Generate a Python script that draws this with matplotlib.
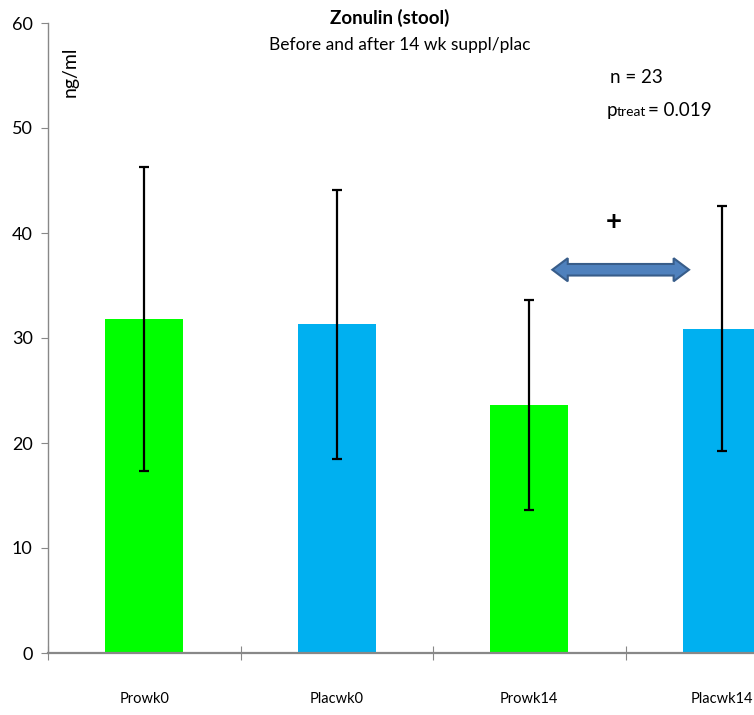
import matplotlib
matplotlib.use("Agg")
import matplotlib.pyplot as plt
from matplotlib.patches import Polygon
import numpy as np

categories = ["Prowk0", "Placwk0", "Prowk14", "Placwk14"]
means = [31.8, 31.3, 23.6, 30.9]
errors = [14.5, 12.8, 10.0, 11.7]
colors = ["#00FF00", "#00B0F0", "#00FF00", "#00B0F0"]
yticks = [0, 10, 20, 30, 40, 50, 60]

plt.rcParams['font.family'] = ['Lato', 'DejaVu Sans']

W, H = 754, 715
fig = plt.figure(figsize=(W / 100, H / 100), dpi=100)
ax = fig.add_axes([48 / W, 1 - 653 / H, 770 / W, 630 / H])

x = np.arange(len(categories))
ax.bar(x, means, width=0.405, color=colors, zorder=2)
ax.errorbar(x, means, yerr=errors, fmt='none', ecolor='black', elinewidth=1.6,
            capsize=3.8, capthick=1.6, zorder=3)

ax.set_xlim(-0.5, 3.5)
ax.set_ylim(0, 60)
ax.set_yticks(yticks)
ax.set_yticklabels([str(v) for v in yticks], fontsize=13)
ax.set_xticks(x)
ax.set_xticklabels(categories, fontsize=10.5)
ax.set_xticks(np.arange(-0.5, 3.6, 1.0), minor=True)
ax.tick_params(axis='x', which='major', length=0, pad=28)
ax.tick_params(axis='x', which='minor', length=10, direction='inout', color='#888888', width=0.8)
ax.tick_params(axis='y', length=5, color='#888888', width=0.8, pad=6)

for s in ['top', 'right']:
    ax.spines[s].set_visible(False)
for s in ['left', 'bottom']:
    ax.spines[s].set_color('#888888')
    ax.spines[s].set_linewidth(1.0)
ax.spines['bottom'].set_linewidth(1.6)

# y label inside axes
fig.text(70 / W, 1 - 72 / H, "ng/ml", rotation=90, ha='center', va='center', fontsize=14)

# titles
fig.text(390 / W, 1 - 18 / H, "Zonulin (stool)", ha='center', va='center',
         fontsize=13.5, fontweight='bold')
fig.text(400 / W, 1 - 45 / H, "Before and after 14 wk suppl/plac", ha='center', va='center',
         fontsize=12.5)

# stats text
fig.text(610 / W, 1 - 83 / H, "n = 23", ha='left', va='baseline', fontsize=13.5)
fig.text(607 / W, 1 - 116 / H, "p", ha='left', va='baseline', fontsize=13.5)
fig.text(617 / W, 1 - 116 / H, "treat", ha='left', va='baseline', fontsize=10)
fig.text(648 / W, 1 - 116 / H, "= 0.019", ha='left', va='baseline', fontsize=13.5)

# significance marker and double arrow between Prowk14 and Placwk14
ax.text(2.44, 41.0, "+", ha='center', va='center', fontsize=20, fontweight='bold')
ax_x0, ax_x1, ay = 2.12, 2.83, 36.5
hl, sh, hh = 0.08, 0.55, 1.1
arrow = Polygon([
    (ax_x0, ay), (ax_x0 + hl, ay + hh), (ax_x0 + hl, ay + sh),
    (ax_x1 - hl, ay + sh), (ax_x1 - hl, ay + hh), (ax_x1, ay),
    (ax_x1 - hl, ay - hh), (ax_x1 - hl, ay - sh), (ax_x0 + hl, ay - sh),
    (ax_x0 + hl, ay - hh)], closed=True, facecolor='#4F81BD',
    edgecolor='#385D8A', linewidth=1.5, zorder=4)
ax.add_patch(arrow)

fig.savefig("out.png", dpi=100)
